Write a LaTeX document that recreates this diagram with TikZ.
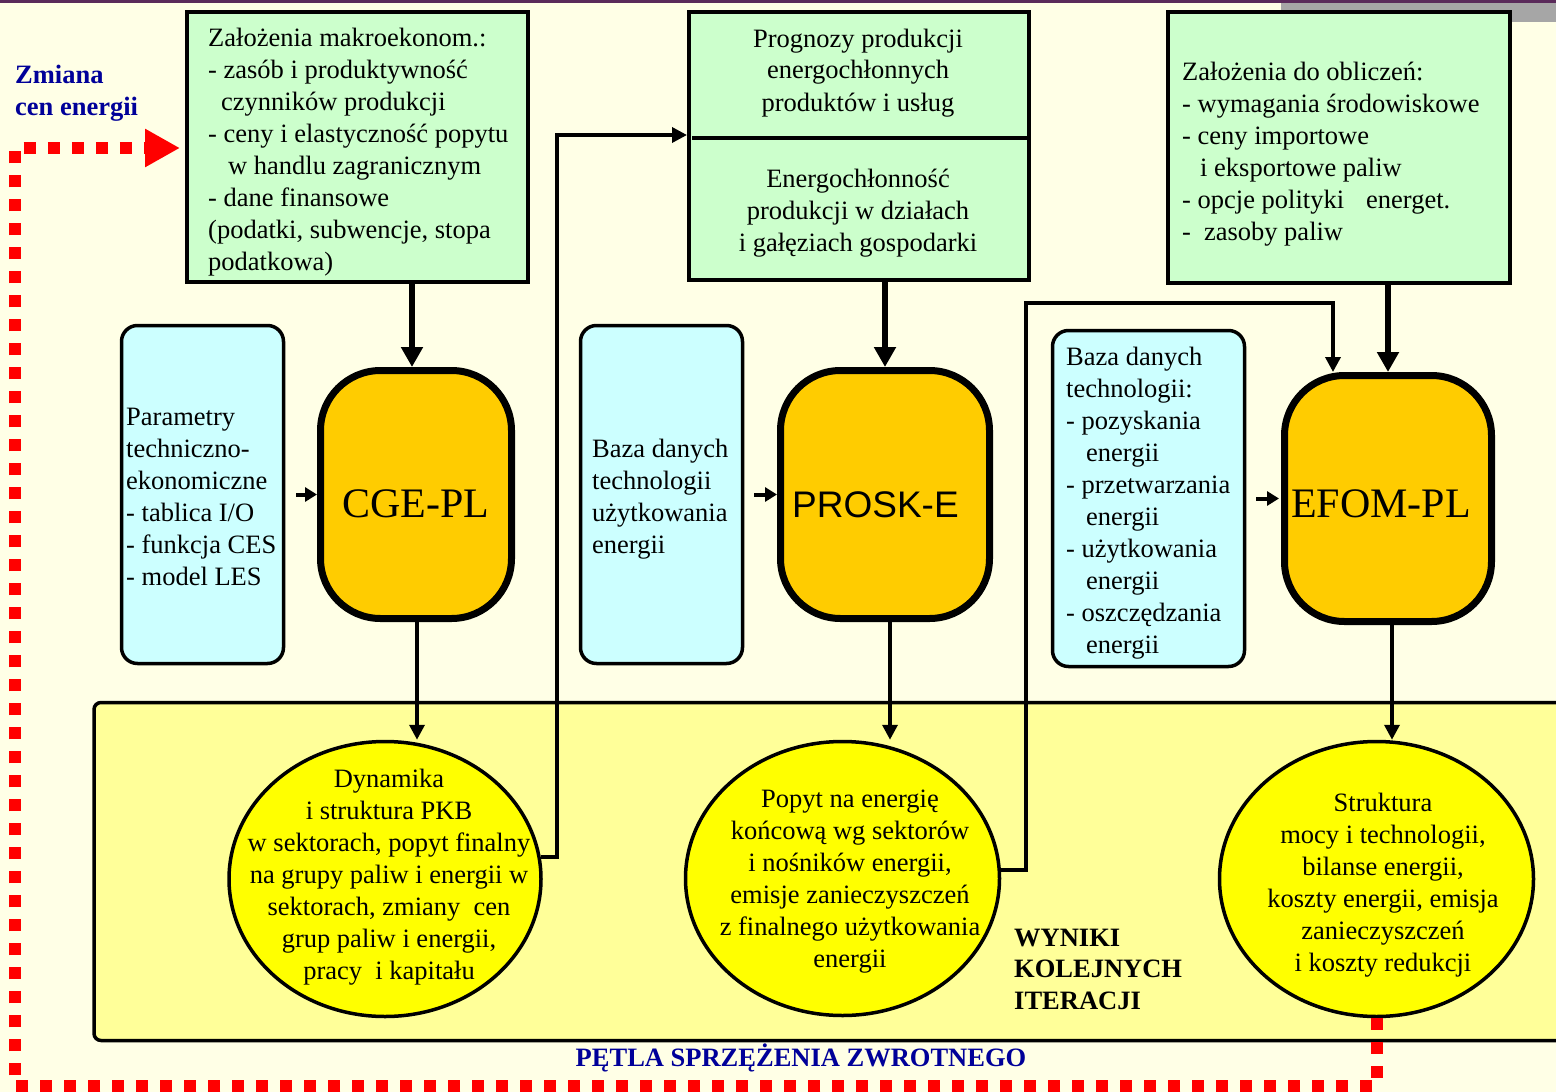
\documentclass[tikz,border=0pt]{standalone}
\usepackage{fontspec}
\setmainfont{Liberation Serif}
\newfontfamily\arialfont{Liberation Sans}
\usetikzlibrary{arrows.meta,shapes.geometric,calc}
\definecolor{bgc}{HTML}{FFFFE6}
\definecolor{gfill}{HTML}{CCFFCC}
\definecolor{cfill}{HTML}{CCFFFF}
\definecolor{ofill}{HTML}{FFCC00}
\definecolor{yfill}{HTML}{FFFF99}
\definecolor{efill}{HTML}{FFFF00}
\definecolor{dblue}{HTML}{000099}
\definecolor{topline}{HTML}{5A2A5A}
\definecolor{graybar}{HTML}{A6A6A6}
\newcommand{\Lt}[1]{\begin{tabular}[t]{@{}l@{}}#1\end{tabular}}
\newcommand{\Ct}[1]{\begin{tabular}[t]{@{}c@{}}#1\end{tabular}}
\begin{document}
\begin{tikzpicture}[x=1pt,y=-1pt,
  gbox/.style={rectangle, draw=black, line width=4pt, fill=gfill, inner sep=0pt},
  cbox/.style={rectangle, draw=black, line width=3.5pt, fill=cfill, rounded corners=16pt, inner sep=0pt},
  obox/.style={rectangle, draw=black, line width=7pt, fill=ofill, rounded corners=60pt, inner sep=0pt},
  ybox/.style={rectangle, draw=black, line width=3.5pt, fill=yfill, rounded corners=7pt, inner sep=0pt},
  ell/.style={ellipse, draw=black, line width=3.5pt, fill=efill, inner sep=0pt},
  txt/.style={inner sep=0pt, font=\fontsize{26.5}{32}\selectfont},
  bigarr/.style={line width=6pt, -{Triangle[length=20pt,width=21pt]}},
  thinarr/.style={line width=3.5pt, -{Triangle[length=15pt,width=15pt]}},
  smallarr/.style={line width=4pt, -{Triangle[length=12pt,width=14pt]}},
  fbline/.style={draw=red, line width=12pt, dash pattern=on 12pt off 12pt, -{Triangle[length=35pt,width=36pt,fill=red]}}
]
\useasboundingbox (0,0) rectangle (1556,1092);
\clip (0,0) rectangle (1556,1092);
\fill[bgc] (0,0) rectangle (1556,1092);
\fill[graybar] (1281,0) rectangle (1556,22);
\fill[topline] (0,0) rectangle (1556,2.5);

% results area
\node[ybox, minimum width=1504pt, minimum height=338pt] (res) at (846,871.5) {};

% green boxes
\node[gbox, minimum width=341pt, minimum height=270pt] (g1) at (357.5,147) {};
\node[gbox, minimum width=340pt, minimum height=268pt] (g2) at (859,146) {};
\node[gbox, minimum width=342pt, minimum height=271pt] (g3) at (1339,147.5) {};
\draw[line width=4pt] (692,138) -- (1029,138);

% cyan boxes
\node[cbox, minimum width=162pt, minimum height=338pt] (c1) at (202.5,494.5) {};
\node[cbox, minimum width=162pt, minimum height=338pt] (c2) at (661.5,494.5) {};
\node[cbox, minimum width=192pt, minimum height=336pt] (c3) at (1148.5,498.5) {};

% model boxes
\node[obox, minimum width=191pt, minimum height=248pt] (o1) at (416,494.5) {};
\node[obox, minimum width=209pt, minimum height=248pt] (o2) at (885,494.5) {};
\node[obox, minimum width=207pt, minimum height=246pt] (o3) at (1388,498.5) {};

% result ellipses
\node[ell, minimum width=312pt, minimum height=275pt] (e1) at (385,879) {};
\node[ell, minimum width=314pt, minimum height=274pt] (e2) at (842.5,878.5) {};
\node[ell, minimum width=314pt, minimum height=275pt] (e3) at (1376.5,879) {};

% texts
\node[txt, anchor=base west] (tg1) at (208,46) {\Lt{Założenia makroekonom.:\\
- zasób i produktywność\\
\hspace*{13pt}czynników produkcji\\
- ceny i elastyczność popytu\\
\hspace*{20pt}w handlu zagranicznym\\
- dane finansowe\\
(podatki, subwencje, stopa\\
podatkowa)}};
\node[txt, anchor=base] (tg2a) at (858,47) {\Ct{Prognozy produkcji\\energochłonnych\\produktów i usług}};
\node[txt, anchor=base] (tg2b) at (858,187) {\Ct{Energochłonność\\produkcji w działach\\i gałęziach gospodarki}};
\node[txt, anchor=base west] (tg3) at (1182,80) {\Lt{Założenia do obliczeń:\\
- wymagania środowiskowe\\
- ceny importowe\\
\hspace*{18pt}i eksportowe paliw\\
- opcje polityki\hspace*{22pt}energet.\\
-\hspace*{13pt}zasoby paliw}};
\node[txt, anchor=base west] (tc1) at (126,425) {\Lt{Parametry\\techniczno-\\ekonomiczne\\- tablica I/O\\- funkcja CES\\- model LES}};
\node[txt, anchor=base west] (tc2) at (592,457) {\Lt{Baza danych\\technologii\\użytkowania\\energii}};
\node[txt, anchor=base west] (tc3) at (1066,365) {\Lt{Baza danych\\technologii:\\- pozyskania\\\hspace*{20pt}energii\\- przetwarzania\\\hspace*{20pt}energii\\- użytkowania\\\hspace*{20pt}energii\\- oszczędzania\\\hspace*{20pt}energii}};
\node[inner sep=0pt, anchor=base, font=\fontsize{42}{46}\selectfont] (to1) at (416,517) {CGE-PL};
\node[inner sep=0pt, anchor=base west, font=\arialfont\fontsize{37}{42}\selectfont] (to2) at (792,517) {PROSK-E};
\node[inner sep=0pt, anchor=base west, font=\fontsize{42}{46}\selectfont] (to3) at (1291,517) {EFOM-PL};
\node[txt, anchor=base] (te1) at (389,787) {\Ct{Dynamika\\i struktura PKB\\w sektorach, popyt finalny\\na grupy paliw i energii w\\sektorach, zmiany\ \ cen\\grup paliw i energii,\\pracy\ \ i kapitału}};
\node[txt, anchor=base] (te2) at (850,807) {\Ct{Popyt na energię\\końcową wg sektorów\\i nośników energii,\\emisje zanieczyszczeń\\z finalnego użytkowania\\energii}};
\node[txt, anchor=base] (te3) at (1383,811) {\Ct{Struktura\\mocy i technologii,\\bilanse energii,\\koszty energii, emisja\\zanieczyszczeń\\i koszty redukcji}};
\node[txt, anchor=base west, font=\fontsize{26.5}{31.5}\selectfont\bfseries] (twyn) at (1014,946) {\Lt{WYNIKI\\KOLEJNYCH\\ITERACJI}};
\node[txt, anchor=base west, text=dblue, font=\fontsize{26.5}{32}\selectfont\bfseries] (tzm) at (15,83) {\Lt{Zmiana\\cen energii}};
\node[txt, anchor=base, text=dblue, font=\fontsize{26.5}{32}\selectfont\bfseries] (tpet) at (801,1066) {PĘTLA SPRZĘŻENIA ZWROTNEGO};

% waypoints
\coordinate (k1) at (557,135);
\coordinate (k2) at (1026,303);
\coordinate (k3) at (1333,303);
\coordinate (k4) at (15,148);
\coordinate (k5) at (15,1086);
\coordinate (a1) at ($(o1.north)+(-4,0)$);
\coordinate (b1) at ($(o1.south)+(1,0)$);
\coordinate (b2) at ($(o2.south)+(5,0)$);
\coordinate (b3) at ($(o3.south)+(4,0)$);

% connectors
\draw[bigarr] (a1 |- g1.south) -- (a1);
\draw[bigarr] (g2.south -| o2.north) -- (o2.north);
\draw[bigarr] (g3.south -| o3.north) -- (o3.north);
\draw[smallarr, shorten <=11pt] (c1.east) -- (o1.west);
\draw[smallarr, shorten <=10pt] (c2.east) -- (o2.west);
\draw[smallarr, shorten <=10pt, shorten >=2pt] (c3.east) -- (o3.west);
\draw[thinarr] (b1) -- (b1 |- e1.north);
\draw[thinarr] (b2) -- (b2 |- e2.north);
\draw[thinarr] (b3) -- (b3 |- e3.north);
\draw[thinarr] (e1.8) -| (k1) -- (k1 -| g2.west);
\draw[thinarr] (e2.3) -| (k2) -- (k3) -- (k3 |- o3.north);
\draw[fbline, shorten >=5pt] (e3.south) |- (k5) -- (k4) -- (k4 -| g1.west);
\end{tikzpicture}
\end{document}
